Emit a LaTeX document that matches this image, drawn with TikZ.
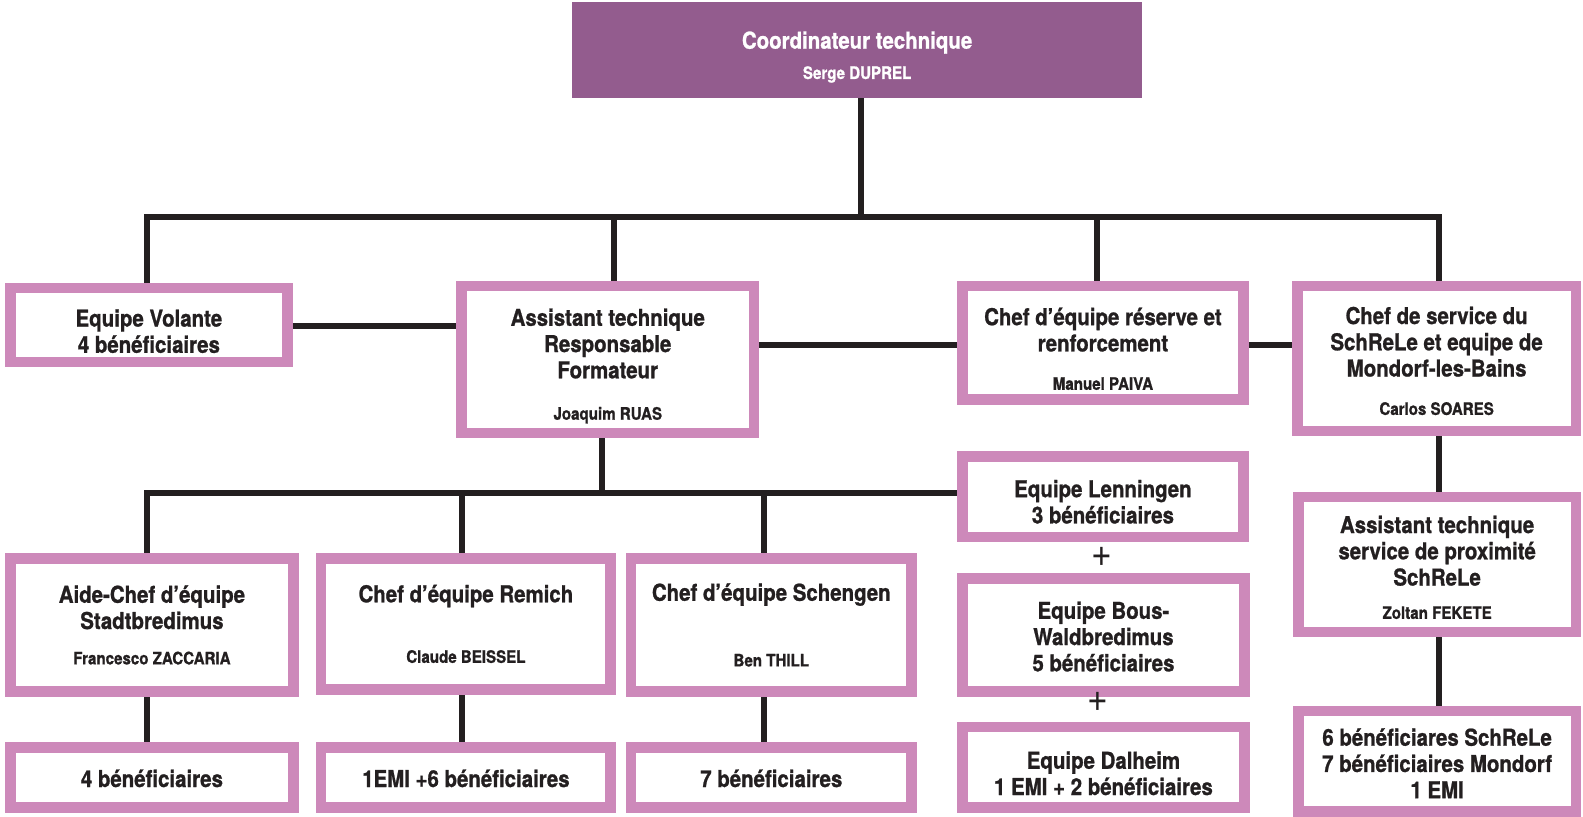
\documentclass[tikz,border=0pt]{standalone}
\usepackage{fontspec}
\setmainfont{TeX Gyre Heros}[FakeStretch=0.88, BoldFeatures={FakeBold=1}]
\usetikzlibrary{backgrounds}
\definecolor{purp}{HTML}{935C8E}
\definecolor{pinkb}{HTML}{CD89BA}
\definecolor{ink}{HTML}{231F20}
\newcommand{\nm}{\fontsize{17}{26}\selectfont}
\tikzset{
  frame/.style={draw=pinkb, line width=10.4pt, fill=white, inner sep=0pt},
  txt/.style={inner sep=0pt, align=center, text=ink, font=\fontsize{23}{26}\selectfont\bfseries},
  conn/.style={draw=ink, line width=6pt},
  plussign/.style={text=ink, inner sep=0pt, font=\fontsize{40}{40}\selectfont}
}
% \bx{name}{x1}{y1}{x2}{y2}{text shift down}{text}
\newcommand{\bx}[7]{%
  \node[frame, minimum width={#4pt-#2pt-10.4pt}, minimum height={#5pt-#3pt-10.4pt}] (#1) at ({(#2+#4)/2},{(#3+#5)/2}) {};
  \node[txt] (#1t) at ([yshift=-#6pt]#1.center) {#7};}
\begin{document}
\begin{tikzpicture}[x=1pt,y=-1pt]
\useasboundingbox (0,0) rectangle (1568,809);
% nodes
\node[fill=purp, inner sep=0pt, minimum width=564pt, minimum height=95pt] (top) at (849,49.5) {};
\node[txt, text=white] (topt) at ([yshift=-7pt]top.center) {Coordinateur technique\\[4pt]\nm Serge DUPREL};
\bx{volante}{5}{280}{290}{364}{6}{Equipe Volante\\4 bénéficiaires}
\bx{assist}{452}{278}{752}{434}{6.5}{Assistant technique\\Responsable\\Formateur\\[15pt]\nm Joaquim RUAS}
\bx{reserve}{948}{278}{1237}{401}{6}{Chef d’équipe réserve et\\renforcement\\[12pt]\nm Manuel PAIVA}
\bx{service}{1280}{278}{1566}{432}{2.5}{Chef de service du\\SchReLe et equipe de\\Mondorf-les-Bains\\[12pt]\nm Carlos SOARES}
\bx{aide}{5}{548}{296}{690}{0}{Aide-Chef d’équipe\\Stadtbredimus\\[9pt]\nm Francesco ZACCARIA}
\bx{remich}{313}{548}{610}{688}{0}{Chef d’équipe Remich\\[34pt]\nm Claude BEISSEL}
\bx{schengen}{620}{548}{908}{690}{0}{Chef d’équipe Schengen\\[39pt]\nm Ben THILL}
\bx{b1}{5}{735}{296}{805}{1}{4 bénéficiaires}
\bx{b2}{313}{735}{610}{805}{1}{1EMI +6 bénéficiaires}
\bx{b3}{620}{735}{908}{805}{1}{7 bénéficiaires}
\bx{lenn}{948}{447}{1237}{537}{5}{Equipe Lenningen\\3 bénéficiaires}
\node[plussign] (plus1) at (1091,552) {+};
\bx{bous}{948}{568}{1238}{690}{1.5}{Equipe Bous-\\Waldbredimus\\5 bénéficiaires}
\node[plussign] (plus2) at (1087.5,695) {+};
\bx{dal}{948}{715}{1238}{805}{6}{Equipe Dalheim\\1 EMI + 2 bénéficiaires}
\bx{sch}{1281}{487}{1566}{631}{3}{Assistant technique\\service de proximité\\SchReLe\\[7pt]\nm Zoltan FEKETE}
\bx{br}{1281}{699}{1566}{809}{2}{6 bénéficiares SchReLe\\7 bénéficiaires Mondorf\\1 EMI}
% connectors
\begin{pgfonlayer}{background}
\coordinate (t1) at (853,215);
\coordinate (hL) at (143,215);
\coordinate (hR) at (1428,215);
\coordinate (v1) at (146,215);
\coordinate (v2) at (608,215);
\coordinate (v3) at (1087,215);
\coordinate (v4) at (1425,215);
\coordinate (m1) at (0,323);
\coordinate (m2) at (0,342);
\coordinate (a1) at (596,488);
\coordinate (h2L) at (143,488);
\coordinate (w1) at (146,488);
\coordinate (w2) at (458,488);
\coordinate (w3) at (757,488);
\draw[conn] (top.south -| t1) -- (t1);
\draw[conn] (hL) -- (hR);
\draw[conn] (v1) -- (v1 |- volante.north);
\draw[conn] (v2) -- (v2 |- assist.north);
\draw[conn] (v3) -- (v3 |- reserve.north);
\draw[conn] (v4) -- (v4 |- service.north);
\draw[conn] (volante.east |- m1) -- (assist.west |- m1);
\draw[conn] (assist.east |- m2) -- (reserve.west |- m2);
\draw[conn] (reserve.east |- m2) -- (service.west |- m2);
\draw[conn] (assist.south -| a1) -- (a1);
\draw[conn] (h2L) -- (lenn.west |- h2L);
\draw[conn] (w1) -- (w1 |- aide.north);
\draw[conn] (w2) -- (w2 |- remich.north);
\draw[conn] (w3) -- (w3 |- schengen.north);
\draw[conn] (aide.south -| w1) -- (b1.north -| w1);
\draw[conn] (remich.south -| w2) -- (b2.north -| w2);
\draw[conn] (schengen.south -| w3) -- (b3.north -| w3);
\draw[conn] (service.south -| v4) -- (sch.north -| v4);
\draw[conn] (sch.south -| v4) -- (br.north -| v4);
\end{pgfonlayer}
\end{tikzpicture}
\end{document}
